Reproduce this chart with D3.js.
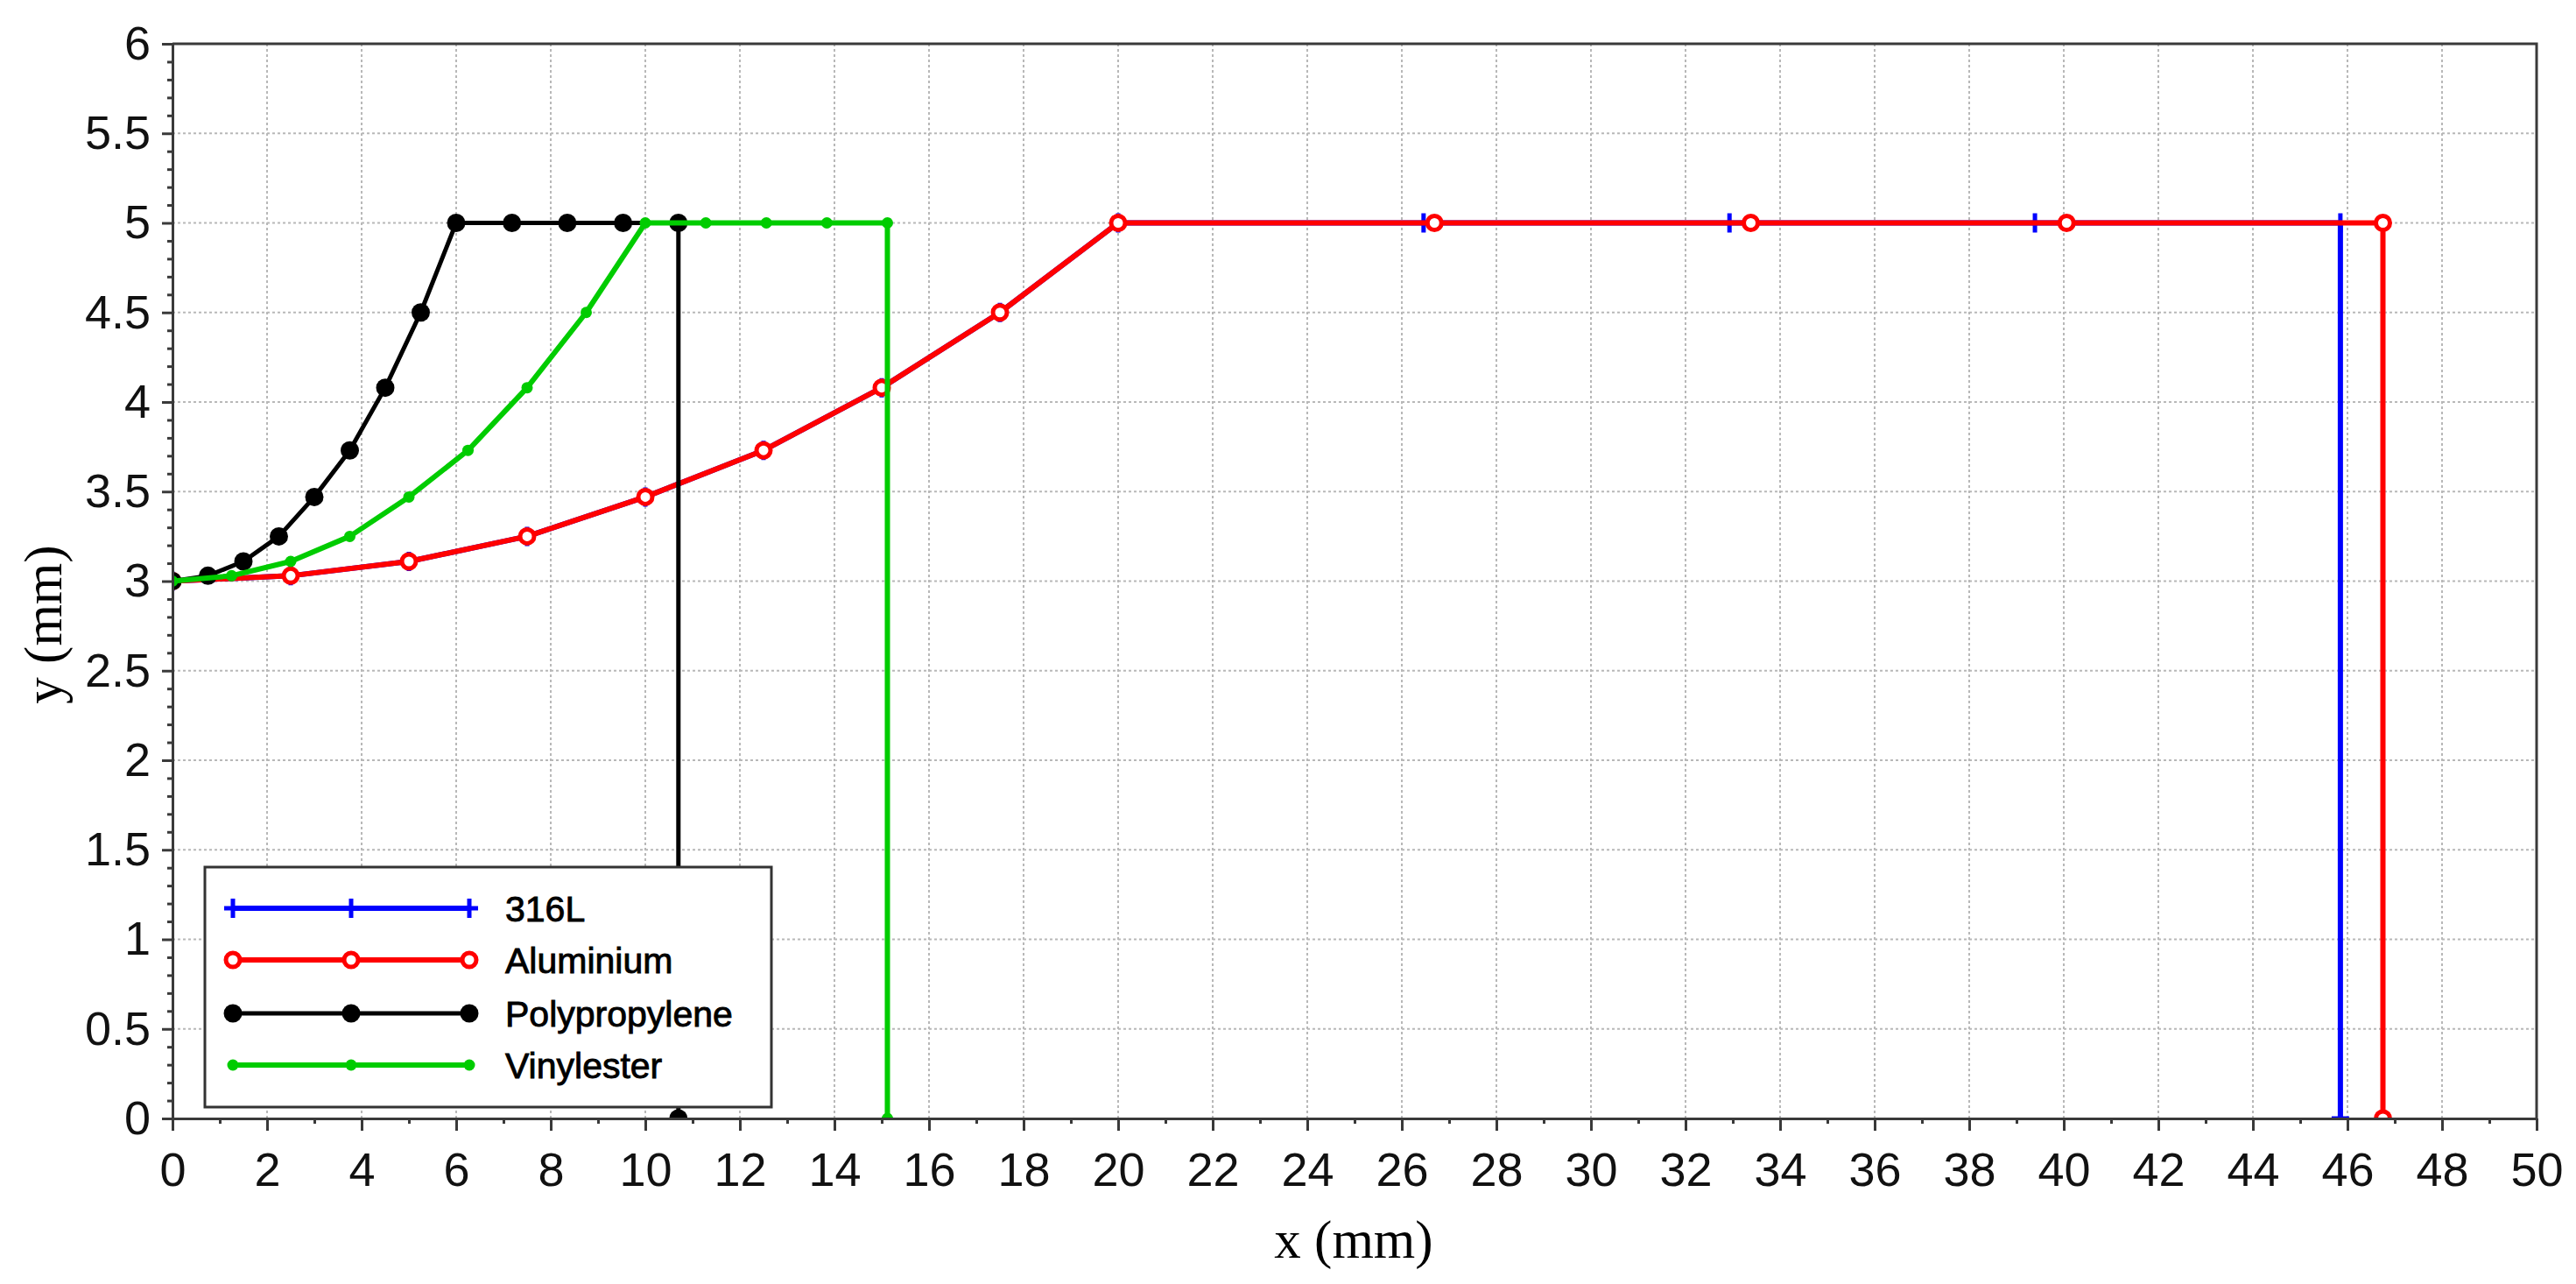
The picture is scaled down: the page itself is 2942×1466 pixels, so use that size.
<!DOCTYPE html>
<html><head><meta charset="utf-8">
<script src="https://cdn.jsdelivr.net/npm/d3@7/dist/d3.min.js"></script>
<style>body{margin:0;background:#fff;}svg{display:block;}</style>
</head><body>
<script>
// ---- data ----
const seriesNames = ["316L", "Aluminium", "Polypropylene", "Vinylester"];
const x316L = [0, 2.5, 5, 7.5, 10, 12.5, 15, 17.5, 20, 26.46, 32.93, 39.39, 45.85, 45.85];
const y316L = [3, 3.03, 3.11, 3.25, 3.47, 3.73, 4.08, 4.5, 5, 5, 5, 5, 5, 0];
const xAlu = [0, 2.5, 5, 7.5, 10, 12.5, 15, 17.5, 20, 26.69, 33.38, 40.06, 46.75, 46.75];
const yAlu = [3, 3.03, 3.11, 3.25, 3.47, 3.73, 4.08, 4.5, 5, 5, 5, 5, 5, 0];
const xPP = [0, 0.75, 1.5, 2.25, 3, 3.75, 4.5, 5.25, 6, 7.18, 8.35, 9.53, 10.7, 10.7];
const yPP = [3, 3.03, 3.11, 3.25, 3.47, 3.73, 4.08, 4.5, 5, 5, 5, 5, 5, 0];
const xVE = [0, 1.25, 2.5, 3.75, 5, 6.25, 7.5, 8.75, 10, 11.28, 12.56, 13.84, 15.12, 15.12];
const yVE = [3, 3.03, 3.11, 3.25, 3.47, 3.73, 4.08, 4.5, 5, 5, 5, 5, 5, 0];
const xTickValues = [0,2,4,6,8,10,12,14,16,18,20,22,24,26,28,30,32,34,36,38,40,42,44,46,48,50];
const xMinorValues = [1,3,5,7,9,11,13,15,17,19,21,23,25,27,29,31,33,35,37,39,41,43,45,47,49];
const yTickValues = [0,0.5,1,1.5,2,2.5,3,3.5,4,4.5,5,5.5,6];
const yMinorValues = [0.1,0.2,0.3,0.4,0.6,0.7,0.8,0.9,1.1,1.2,1.3,1.4,1.6,1.7,1.8,1.9,2.1,2.2,2.3,2.4,2.6,2.7,2.8,2.9,3.1,3.2,3.3,3.4,3.6,3.7,3.8,3.9,4.1,4.2,4.3,4.4,4.6,4.7,4.8,4.9,5.1,5.2,5.3,5.4,5.6,5.7,5.8,5.9];
const xLabel = "x (mm)", yLabel = "y (mm)";

// ---- layout ----
const W = 2942, H = 1466;
const L = 197, R = 2897, T = 50, B = 1277;
const x = d3.scaleLinear().domain([0, 50]).range([L, R]);
const y = d3.scaleLinear().domain([0, 6]).range([B, T]);

const svg = d3.select("body").append("svg").attr("width", W).attr("height", H);
svg.append("rect").attr("width", W).attr("height", H).attr("fill", "#fff");

// grid
const grid = svg.append("g").attr("stroke", "#b8b8b8").attr("stroke-width", 2).attr("stroke-dasharray", "3,3");
grid.selectAll("line.gx").data(xTickValues.slice(1, -1)).join("line")
  .attr("x1", d => x(d)).attr("x2", d => x(d)).attr("y1", T).attr("y2", B);
grid.selectAll("line.gy").data(yTickValues.slice(1, -1)).join("line")
  .attr("x1", L).attr("x2", R).attr("y1", d => y(d)).attr("y2", d => y(d));

// clip
svg.append("clipPath").attr("id", "plotclip").append("rect")
  .attr("x", L).attr("y", T - 20).attr("width", R - L).attr("height", B - T + 20);

const series = [
  {name: seriesNames[0], xs: x316L, ys: y316L, color: "#0000ff", width: 6, marker: "plus"},
  {name: seriesNames[1], xs: xAlu, ys: yAlu, color: "#ff0000", width: 6, marker: "ocircle"},
  {name: seriesNames[2], xs: xPP, ys: yPP, color: "#000000", width: 5, marker: "dot", r: 10.5},
  {name: seriesNames[3], xs: xVE, ys: yVE, color: "#00cc00", width: 6, marker: "dot", r: 6.5}
];

function drawMarker(g, cx, cy, s) {
  if (s.marker === "plus") {
    g.append("path").attr("d", `M${cx-10},${cy}H${cx+10}M${cx},${cy-11}V${cy+11}`)
      .attr("stroke", s.color).attr("stroke-width", 5).attr("fill", "none");
  } else if (s.marker === "ocircle") {
    g.append("circle").attr("cx", cx).attr("cy", cy).attr("r", 8)
      .attr("fill", "#fff").attr("stroke", s.color).attr("stroke-width", 5);
  } else {
    g.append("circle").attr("cx", cx).attr("cy", cy).attr("r", s.r).attr("fill", s.color);
  }
}

const plot = svg.append("g").attr("clip-path", "url(#plotclip)");
const line = d3.line().x(d => x(d[0])).y(d => y(d[1]));
series.forEach(s => {
  const pts = s.xs.map((v, i) => [v, s.ys[i]]);
  const g = plot.append("g");
  g.append("path").attr("d", line(pts)).attr("fill", "none")
    .attr("stroke", s.color).attr("stroke-width", s.width).attr("stroke-linejoin", "round");
  pts.forEach(p => drawMarker(g, x(p[0]), y(p[1]), s));
});

// frame
svg.append("path").attr("d", `M${L},${T}H${R}V${B}`).attr("fill", "none")
  .attr("stroke", "#3a3a3a").attr("stroke-width", 3);

// axes
const fmt = d => String(d);
const xAxis = svg.append("g").attr("transform", `translate(0,${B})`)
  .call(d3.axisBottom(x).tickValues(xTickValues).tickSize(14).tickSizeOuter(0).tickPadding(25).tickFormat(fmt));
const xMinor = svg.append("g").attr("transform", `translate(0,${B})`)
  .call(d3.axisBottom(x).tickValues(xMinorValues).tickSize(6).tickSizeOuter(0).tickFormat(""));
const yAxis = svg.append("g").attr("transform", `translate(${L},0)`)
  .call(d3.axisLeft(y).tickValues(yTickValues).tickSize(12).tickSizeOuter(0).tickPadding(13).tickFormat(fmt));
const yMinor = svg.append("g").attr("transform", `translate(${L},0)`)
  .call(d3.axisLeft(y).tickValues(yMinorValues).tickSize(6).tickSizeOuter(0).tickFormat(""));
[xAxis, xMinor, yAxis, yMinor].forEach(a => {
  a.selectAll(".domain").attr("stroke", "#3a3a3a").attr("stroke-width", 3);
  a.selectAll(".tick line").attr("stroke", "#3a3a3a").attr("stroke-width", 3);
  a.selectAll("text").attr("font-family", "'Liberation Sans', Arial, sans-serif")
    .attr("font-size", 54).attr("fill", "#111");
});

// axis titles
svg.append("text").attr("x", 1546).attr("y", 1436).attr("text-anchor", "middle")
  .attr("font-family", "'Liberation Serif', 'DejaVu Serif', serif").attr("font-size", 61)
  .attr("fill", "#000").text(xLabel);
svg.append("text").attr("transform", "translate(70,713) rotate(-90)").attr("text-anchor", "middle")
  .attr("font-family", "'Liberation Serif', 'DejaVu Serif', serif").attr("font-size", 61)
  .attr("fill", "#000").text(yLabel);

// legend
const lg = svg.append("g");
lg.append("rect").attr("x", 234).attr("y", 990).attr("width", 647).attr("height", 274)
  .attr("fill", "#fff").attr("stroke", "#333").attr("stroke-width", 3);
const rowY = [1037, 1096, 1157, 1216];
const sampleX = [266, 401, 536];
series.forEach((s, i) => {
  const g = lg.append("g");
  g.append("line").attr("x1", sampleX[0]).attr("x2", sampleX[2]).attr("y1", rowY[i]).attr("y2", rowY[i])
    .attr("stroke", s.color).attr("stroke-width", s.width);
  sampleX.forEach(sx => drawMarker(g, sx, rowY[i], s));
  g.append("text").attr("x", 577).attr("y", rowY[i]).attr("dy", "0.36em")
    .attr("font-family", "'Liberation Sans', Arial, sans-serif")
    .attr("font-size", 41).attr("fill", "#000").attr("stroke", "#000").attr("stroke-width", 0.9)
    .text(s.name);
});
</script>
</body></html>
